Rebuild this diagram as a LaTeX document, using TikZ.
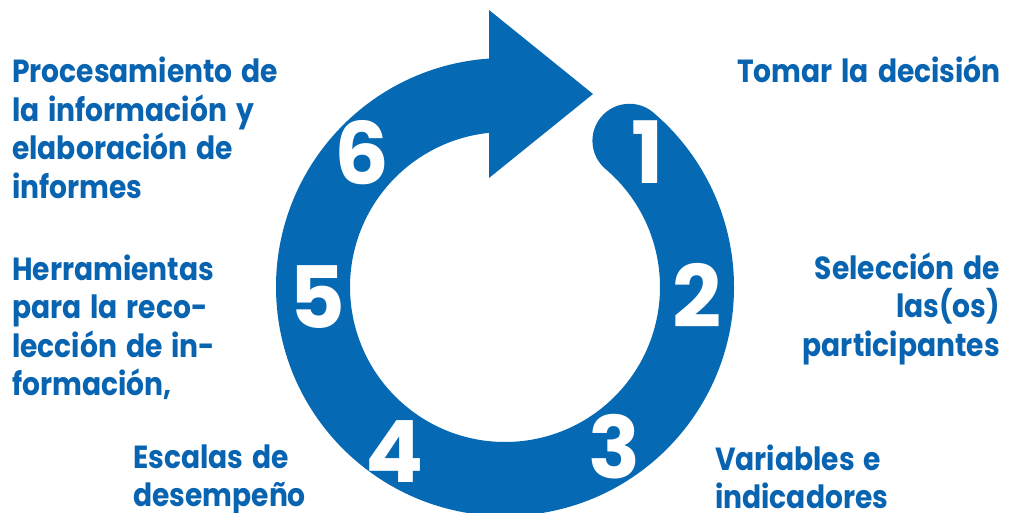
\documentclass[tikz,border=0pt]{standalone}
\usepackage{fontspec}
\setmainfont{Poppins}
\newfontfamily\labfont{Poppins}
\newfontfamily\txtfont{Poppins}[FakeStretch=0.88, WordSpace=1.5]
\definecolor{ringblue}{RGB}{5,105,179}
\definecolor{textblue}{RGB}{8,100,176}
\tikzset{
  ring/.style={fill=ringblue},
  numlabel/.style={text=white, inner sep=0pt, font={\labfont\bfseries\fontsize{86}{86}\selectfont}},
  steplabel/.style={text=textblue, inner sep=0pt, font={\txtfont\bfseries\fontsize{32}{38.5}\selectfont}},
}
\begin{document}
\begin{tikzpicture}[x=1pt,y=1pt]
\useasboundingbox (0,0) rectangle (1011,512);
\coordinate (C) at (505,225);
% ring with round end
\fill[ring] (C) ++(94.0:229) arc[start angle=94.0, end angle=409.6, radius=229]
  arc[start angle=49.6, end angle=229.6, radius=37]
  arc[start angle=409.6, end angle=95.9, radius=155] -- cycle;
% arrow head
\coordinate (h1) at (489,502);
\coordinate (h2) at (593,418);
\coordinate (h3) at (489,334);
\fill[ring] (h1) -- (h2) -- (h3) -- cycle;
% numbers
\node[numlabel] (n1) at (648,360) {1};
\node[numlabel] (n2) at (697,217) {2};
\node[numlabel] (n3) at (615,65) {3};
\node[numlabel] (n4) at (395,60) {4};
\node[numlabel] (n5) at (317,215) {5};
\node[numlabel] (n6) at (362,359) {6};
% labels (anchored at the baseline of the last line)
\node[steplabel, align=left, anchor=base west] (t6) at (12,313.5) {Procesamiento de\\la información y\\elaboración de\\informes};
\node[steplabel, align=right, anchor=base east] (t1) at (1001,429) {Tomar la decisión};
\node[steplabel, align=right, anchor=base east] (t2) at (1000,156) {Selección de\\las(os)\\participantes};
\node[steplabel, align=left, anchor=base west] (t5) at (12,116.5) {Herramientas\\para la reco-\\lección de in-\\formación,};
\node[steplabel, align=left, anchor=base west] (t4) at (133,5.5) {Escalas de\\desempeño};
\node[steplabel, align=left, anchor=base west] (t3) at (715,3.5) {Variables e\\indicadores};
\end{tikzpicture}
\end{document}
